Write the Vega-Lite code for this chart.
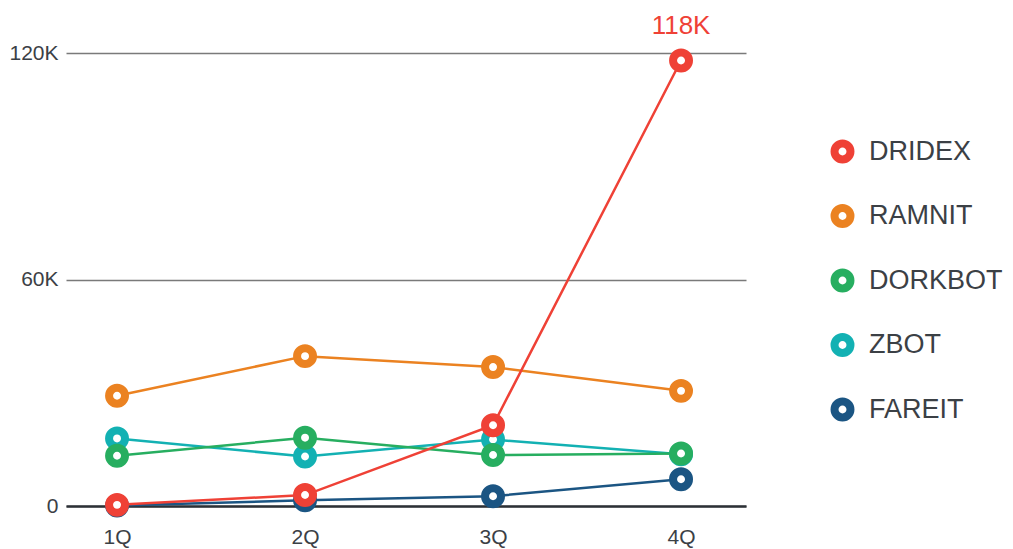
{
  "$schema": "https://vega.github.io/schema/vega-lite/v6.json",
  "autosize": {"type": "none"},
  "padding": {"left": 66, "top": 53, "right": 267, "bottom": 43},
  "width": 680,
  "height": 453,
  "background": "white",
  "config": {
    "view": {"stroke": null},
    "font": "Liberation Sans"
  },
  "data": {
    "values": [
      {"series": "FAREIT", "quarter": "1Q", "value": 100},
      {"series": "FAREIT", "quarter": "2Q", "value": 1500},
      {"series": "FAREIT", "quarter": "3Q", "value": 2600},
      {"series": "FAREIT", "quarter": "4Q", "value": 7100},
      {"series": "ZBOT", "quarter": "1Q", "value": 17900},
      {"series": "ZBOT", "quarter": "2Q", "value": 13100},
      {"series": "ZBOT", "quarter": "3Q", "value": 17600},
      {"series": "ZBOT", "quarter": "4Q", "value": 13700},
      {"series": "DORKBOT", "quarter": "1Q", "value": 13300},
      {"series": "DORKBOT", "quarter": "2Q", "value": 18100},
      {"series": "DORKBOT", "quarter": "3Q", "value": 13500},
      {"series": "DORKBOT", "quarter": "4Q", "value": 13900},
      {"series": "RAMNIT", "quarter": "1Q", "value": 29200},
      {"series": "RAMNIT", "quarter": "2Q", "value": 39700},
      {"series": "RAMNIT", "quarter": "3Q", "value": 36800},
      {"series": "RAMNIT", "quarter": "4Q", "value": 30500},
      {"series": "DRIDEX", "quarter": "1Q", "value": 300},
      {"series": "DRIDEX", "quarter": "2Q", "value": 2900},
      {"series": "DRIDEX", "quarter": "3Q", "value": 21400},
      {"series": "DRIDEX", "quarter": "4Q", "value": 118000}
    ]
  },
  "encoding": {
    "x": {
      "field": "quarter",
      "type": "ordinal",
      "scale": {"type": "point", "padding": 0.3085, "align": 0.44},
      "axis": {
        "title": null,
        "labelAngle": 0,
        "ticks": false,
        "domainColor": "#2c3136",
        "domainWidth": 2.5,
        "labelFontSize": 21,
        "labelColor": "#3b4045",
        "labelPadding": 20,
        "grid": false
      }
    },
    "y": {
      "field": "value",
      "type": "quantitative",
      "scale": {"domain": [0, 120000], "nice": false},
      "axis": {
        "title": null,
        "values": [0, 60000, 120000],
        "domain": false,
        "ticks": false,
        "grid": true,
        "gridColor": "#7a7a7a",
        "gridWidth": 1.3,
        "labelFontSize": 21,
        "labelColor": "#3b4045",
        "labelPadding": 8,
        "labelExpr": "datum.value == 0 ? '0' : (datum.value / 1000) + 'K'"
      }
    },
    "color": {
      "field": "series",
      "type": "nominal",
      "scale": {
        "domain": ["DRIDEX", "RAMNIT", "DORKBOT", "ZBOT", "FAREIT"],
        "range": ["#ef4136", "#eb8221", "#27ae60", "#13b1b3", "#1b5583"]
      },
      "legend": {
        "title": null,
        "orient": "none",
        "legendX": 763,
        "legendY": 85,
        "padding": 0,
        "offset": 0,
        "labelFontSize": 27,
        "labelColor": "#3b4045",
        "labelOffset": 13,
        "rowPadding": 15.5,
        "symbolSize": 254,
        "symbolStrokeWidth": 8,
        "symbolFillColor": "white",
        "symbolType": "circle"
      }
    }
  },
  "layer": [
    {
      "mark": {"type": "line", "strokeWidth": 2.5}
    },
    {
      "mark": {"type": "point", "filled": false, "fill": "white", "strokeWidth": 8, "size": 254, "opacity": 1}
    },
    {
      "transform": [
        {"filter": "datum.series == 'DRIDEX' && datum.quarter == '4Q'"},
        {"calculate": "upper(format(datum.value, '.3s'))", "as": "label"}
      ],
      "mark": {"type": "text", "fontSize": 26, "dy": -27, "baseline": "alphabetic"},
      "encoding": {
        "text": {"field": "label"},
        "color": {"value": "#ef4136"}
      }
    }
  ]
}
